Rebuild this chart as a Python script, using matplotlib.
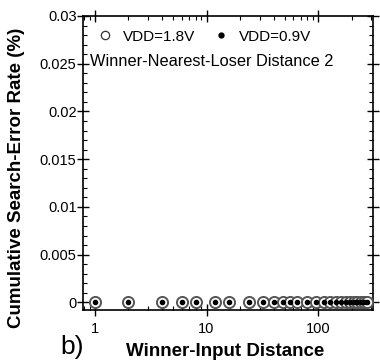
import numpy as np
import matplotlib
matplotlib.use("Agg")
import matplotlib.pyplot as plt
from matplotlib.lines import Line2D
from matplotlib.ticker import MultipleLocator, FixedLocator, NullFormatter

plt.rcParams['font.family'] = ['Liberation Sans', 'DejaVu Sans']

# winner-input distances and cumulative error rates (%)
distance = [1, 2, 4, 6, 8, 12, 16, 24, 32, 40, 48, 56, 64, 80, 96,
            112, 128, 144, 160, 176, 192, 208, 224, 240, 256, 272]
err_18v = [0.0] * len(distance)
err_09v = [0.0] * len(distance)
xticks = [1, 10, 100]
xticklabels = ["1", "10", "100"]
yticks = [0, 0.005, 0.01, 0.015, 0.02, 0.025, 0.03]
yticklabels = ["0", "0.005", "0.01", "0.015", "0.02", "0.025", "0.03"]

fig = plt.figure(figsize=(3.8, 3.63), dpi=100)
ax = fig.add_axes([0.218, 0.146, 0.764, 0.81])

ax.plot(distance, err_18v, ls="none", marker="o", ms=8, mfc="white",
        mec="#555555", mew=1.4, zorder=3)
ax.plot(distance, err_09v, ls="none", marker="o", ms=3, mfc="black",
        mec="black", zorder=4)

ax.set_xscale("log")
ax.set_xlim(0.78, 311)
ax.set_ylim(-0.0008, 0.03)

ax.xaxis.set_major_locator(FixedLocator(xticks))
ax.set_xticklabels(xticklabels)
minors = [m * 10 ** e for e in range(-1, 3) for m in range(2, 10)]
ax.xaxis.set_minor_locator(FixedLocator(minors))
ax.xaxis.set_minor_formatter(NullFormatter())
ax.set_yticks(yticks)
ax.set_yticklabels(yticklabels)
ax.yaxis.set_minor_locator(MultipleLocator(0.001))

ax.tick_params(which="major", direction="inout", length=9, width=1,
               labelsize=10.5, top=True, right=True, pad=0)
ax.tick_params(axis="x", which="major", pad=4)
ax.tick_params(which="minor", direction="in", length=3, width=0.8,
               top=True, right=True)
for s in ax.spines.values():
    s.set_linewidth(1.2)

ax.set_xlabel("Winner-Input Distance", fontsize=13.5, fontweight="bold")
ax.xaxis.set_label_coords(0.49, -0.112)
ax.set_ylabel("Cumulative Search-Error Rate (%)", fontsize=13.5,
              fontweight="bold")
ax.yaxis.set_label_coords(-0.2, 0.45)

handles = [Line2D([], [], ls="none", marker="o", ms=6, mfc="white",
                  mec="#333333", mew=0.9),
           Line2D([], [], ls="none", marker="o", ms=3.5, mfc="black",
                  mec="black")]
ax.legend(handles, ["VDD=1.8V", "VDD=0.9V"], loc="upper left", ncol=2,
          frameon=False, fontsize=11, bbox_to_anchor=(0.005, 0.99),
          handlelength=1.3, handletextpad=0.5, columnspacing=1.1,
          borderaxespad=0.3)
ax.text(0.025, 0.845, "Winner-Nearest-Loser Distance 2", transform=ax.transAxes,
        fontsize=11.8, va="center", ha="left")

fig.text(0.158, 0.045, "b)", fontsize=19, ha="left", va="center")

fig.savefig("out.png", dpi=100)
